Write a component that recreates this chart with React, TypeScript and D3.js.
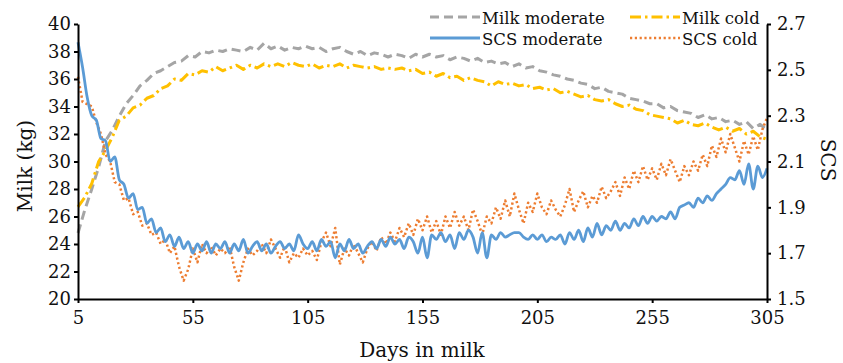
import React, { useEffect, useRef } from 'react';
import * as d3 from 'd3';

// milk yield (kg), read every 3 days from day 5
const milkModerate = [
  24.8, 26.5, 28.0, 29.6, 31.5, 32.3, 33.3, 34.2, 34.8, 35.5,
  35.9, 36.4, 36.6, 36.9, 37.2, 37.3, 37.7, 37.6, 38.0, 37.9,
  38.1, 38.0, 38.2, 38.1, 38.0, 38.3, 38.1, 38.6, 38.2, 38.4,
  38.1, 38.3, 38.2, 38.4, 38.2, 38.3, 38.0, 38.2, 38.3, 38.0,
  37.8, 38.0, 37.7, 37.9, 37.8, 37.6, 37.8, 37.7, 37.5, 37.8,
  37.6, 37.8, 37.6, 37.7, 37.4, 37.6, 37.5, 37.3, 37.5, 37.2,
  37.3, 37.1, 37.2, 36.9, 37.1, 36.8, 36.9, 36.6, 36.5, 36.3,
  36.2, 36.0, 35.9, 35.7, 35.6, 35.3, 35.4, 35.1, 35.0, 34.9,
  34.6, 34.5, 34.4, 34.2, 34.2, 33.9, 34.0, 33.7, 33.6, 33.5,
  33.2, 33.4, 33.1, 33.2, 32.9, 33.0, 32.7, 32.9, 32.4, 32.7,
  32.3
];

const milkCold = [
  26.7, 27.4, 28.4, 30.0, 30.8, 31.8, 33.0, 33.3, 33.9, 34.1,
  34.6, 34.8, 35.3, 35.5, 36.0, 35.9, 36.4, 36.3, 36.6, 36.5,
  36.9, 36.6, 36.8, 37.0, 36.7, 37.0, 36.8, 37.1, 36.9, 37.1,
  36.9, 37.2, 37.0, 36.9, 37.1, 36.8, 37.0, 36.9, 37.1, 36.8,
  37.0, 36.9, 36.8, 36.9, 36.7, 36.8, 36.7, 36.8, 36.6, 36.7,
  36.4, 36.5, 36.2, 36.4, 36.1, 36.2, 35.9, 36.1, 35.9, 35.8,
  35.5, 35.8, 35.6, 35.7, 35.5, 35.6, 35.3, 35.4, 35.2, 35.3,
  35.0, 35.1, 34.9, 34.7, 34.8, 34.5, 34.4, 34.5, 34.2, 34.0,
  34.1, 33.8, 33.7, 33.4, 33.3, 33.2, 33.1, 32.8, 33.0, 32.7,
  32.6, 32.8, 32.5, 32.3, 32.5, 32.2, 32.4, 32.0, 32.2, 31.8,
  31.6
];

// somatic cell score, read every 2 days from day 5
const scsModerate = [
  2.62, 2.51, 2.38, 2.30, 2.28, 2.20, 2.19, 2.10, 2.12, 2.02,
  2.00, 1.94, 1.96, 1.89, 1.90, 1.83, 1.85, 1.79, 1.81, 1.75,
  1.78, 1.73, 1.77, 1.72, 1.75, 1.70,
  1.74, 1.71, 1.75, 1.70, 1.74, 1.72, 1.75, 1.70, 1.74, 1.71,
  1.76, 1.70, 1.73, 1.75, 1.71, 1.74, 1.70, 1.73, 1.75, 1.72,
  1.74, 1.71, 1.78, 1.74, 1.72,
  1.75, 1.71, 1.76, 1.73, 1.75, 1.68, 1.74, 1.71, 1.76, 1.72,
  1.74, 1.70, 1.73, 1.75, 1.72, 1.76, 1.73, 1.77, 1.74, 1.76,
  1.72, 1.77, 1.75, 1.70, 1.77,
  1.68, 1.78, 1.76, 1.79, 1.75, 1.78, 1.72, 1.79, 1.76, 1.80,
  1.77, 1.70, 1.79, 1.68, 1.78, 1.76, 1.79, 1.77, 1.78, 1.79,
  1.79, 1.77, 1.76, 1.78, 1.76,
  1.78, 1.75, 1.77, 1.76, 1.78, 1.74, 1.79, 1.76, 1.80, 1.75,
  1.81, 1.77, 1.83, 1.78, 1.82, 1.80, 1.84, 1.80, 1.83, 1.81,
  1.85, 1.82, 1.86, 1.83, 1.86,
  1.84, 1.86, 1.85, 1.88, 1.85, 1.90, 1.91, 1.92, 1.90, 1.94,
  1.92, 1.95, 1.93, 1.96, 1.98, 2.00, 2.03, 2.02, 2.06, 2.00,
  2.09, 1.98, 2.08, 2.03, 2.07
];

const scsCold = [
  2.47, 2.36, 2.35, 2.34, 2.27, 2.22, 2.13, 2.10, 2.01, 2.00,
  1.93, 1.94, 1.87, 1.88, 1.82, 1.83, 1.78, 1.79, 1.74, 1.76,
  1.70, 1.73, 1.64, 1.58, 1.63, 1.72,
  1.66, 1.74, 1.70, 1.73, 1.69, 1.72, 1.70, 1.73, 1.64, 1.58,
  1.66, 1.72, 1.69, 1.71, 1.74, 1.70, 1.76, 1.72, 1.68, 1.73,
  1.66, 1.70, 1.68, 1.72, 1.69,
  1.71, 1.67, 1.75, 1.79, 1.73, 1.81, 1.65, 1.72, 1.69, 1.74,
  1.70, 1.66, 1.72, 1.75, 1.71, 1.77, 1.74, 1.79, 1.75, 1.81,
  1.77, 1.83, 1.78, 1.85, 1.80,
  1.86, 1.79, 1.84, 1.78, 1.86, 1.81, 1.88, 1.82, 1.86, 1.80,
  1.89, 1.84, 1.78, 1.86, 1.83, 1.90, 1.85, 1.93, 1.86, 1.96,
  1.89, 1.83, 1.92, 1.88, 1.96,
  1.90, 1.87, 1.93, 1.89, 1.86, 1.91, 1.98, 1.88, 1.93, 1.97,
  1.90, 1.95, 1.92, 1.99, 1.94, 1.97, 2.01, 1.95, 2.03, 1.98,
  2.06, 2.01, 2.08, 2.02, 2.07,
  2.02, 2.09, 2.04, 2.11, 2.06, 2.01, 2.08, 2.04, 2.10, 2.06,
  2.13, 2.08, 2.17, 2.12, 2.20, 2.14, 2.22, 2.16, 2.10, 2.19,
  2.13, 2.21, 2.15, 2.24, 2.29
];

const dayTicks = [5, 55, 105, 155, 205, 255, 305];
const milkTicks = [20, 22, 24, 26, 28, 30, 32, 34, 36, 38, 40];
const scsTicks = [1.5, 1.7, 1.9, 2.1, 2.3, 2.5, 2.7];

const milkDays = d3.range(5, 306, 3);
const scsDays = d3.range(5, 306, 2);

const FONT = '"DejaVu Serif", "Liberation Serif", serif';

const App = () => {
  const ref = useRef<SVGSVGElement>(null);

  useEffect(() => {
    document.body.style.margin = '0';
    const svg = d3.select(ref.current);
    svg.selectAll('*').remove();

    const x = d3.scaleLinear().domain([5, 305]).range([78, 767]);
    const yMilk = d3.scaleLinear().domain([20, 40]).range([299, 24]);
    const yScs = d3.scaleLinear().domain([1.5, 2.7]).range([299, 24]);

    const series = [
      { name: 'Milk moderate', days: milkDays, values: milkModerate, y: yMilk, color: '#a5a5a5', dash: '9 5', width: 3, curve: d3.curveLinear },
      { name: 'Milk cold', days: milkDays, values: milkCold, y: yMilk, color: '#ffc000', dash: '11 4 2.5 4', width: 3, curve: d3.curveLinear },
      { name: 'SCS cold', days: scsDays, values: scsCold, y: yScs, color: '#ed7d31', dash: '2.2 2.6', width: 2.5, curve: d3.curveLinear },
      { name: 'SCS moderate', days: scsDays, values: scsModerate, y: yScs, color: '#5b9bd5', dash: null, width: 2.8, curve: d3.curveMonotoneX },
    ];

    series.forEach(s => {
      const line = d3.line<number>()
        .x((d, i) => x(s.days[i]))
        .y(d => s.y(d))
        .curve(s.curve);
      svg.append('path')
        .datum(s.values)
        .attr('fill', 'none')
        .attr('stroke', s.color)
        .attr('stroke-width', s.width)
        .attr('stroke-dasharray', s.dash)
        .attr('stroke-linejoin', 'round')
        .attr('d', line);
    });

    // axes
    const styleAxis = (g: any) => {
      g.attr('font-family', FONT).attr('font-size', '18px');
      g.select('.domain').attr('stroke', '#000').attr('stroke-width', 2);
      g.selectAll('.tick line').attr('stroke', '#000').attr('stroke-width', 2);
      g.selectAll('text').attr('fill', '#111');
    };

    svg.append('g')
      .attr('transform', 'translate(0,299)')
      .call(d3.axisBottom(x).tickValues(dayTicks).tickSize(4).tickSizeOuter(0).tickPadding(8).tickFormat(d3.format('d')))
      .call(styleAxis);

    svg.append('g')
      .attr('transform', 'translate(78,0)')
      .call(d3.axisLeft(yMilk).tickValues(milkTicks).tickSize(4).tickSizeOuter(0).tickPadding(3).tickFormat(d3.format('d')))
      .call(styleAxis);

    svg.append('g')
      .attr('transform', 'translate(767,0)')
      .call(d3.axisRight(yScs).tickValues(scsTicks).tickSize(4).tickSizeOuter(0).tickPadding(6).tickFormat(d3.format('.1f')))
      .call(styleAxis);

    // axis titles
    const title = (t: string, transform: string) =>
      svg.append('text')
        .attr('transform', transform)
        .attr('text-anchor', 'middle')
        .attr('font-family', FONT).attr('font-size', '20px').attr('fill', '#111')
        .text(t);
    title('Days in milk', 'translate(422,357)');
    title('Milk (kg)', 'translate(32,166) rotate(-90)');
    title('SCS', 'translate(821,160) rotate(90)');

    // legend
    const legend = [
      { s: series[0], lx: 430, ly: 17 },
      { s: series[3], lx: 430, ly: 38 },
      { s: series[1], lx: 630, ly: 17 },
      { s: series[2], lx: 630, ly: 38 },
    ];
    legend.forEach(({ s, lx, ly }) => {
      svg.append('line')
        .attr('x1', lx).attr('x2', lx + 50)
        .attr('y1', ly).attr('y2', ly)
        .attr('stroke', s.color)
        .attr('stroke-width', s.width)
        .attr('stroke-dasharray', s.dash);
      svg.append('text')
        .attr('x', lx + 52).attr('y', ly + 6.5)
        .attr('font-family', FONT).attr('font-size', '16.5px').attr('fill', '#111')
        .text(s.name);
    });
  }, []);

  return <svg ref={ref} width={843} height={363} style={{ display: 'block' }}></svg>;
};

export default App;
